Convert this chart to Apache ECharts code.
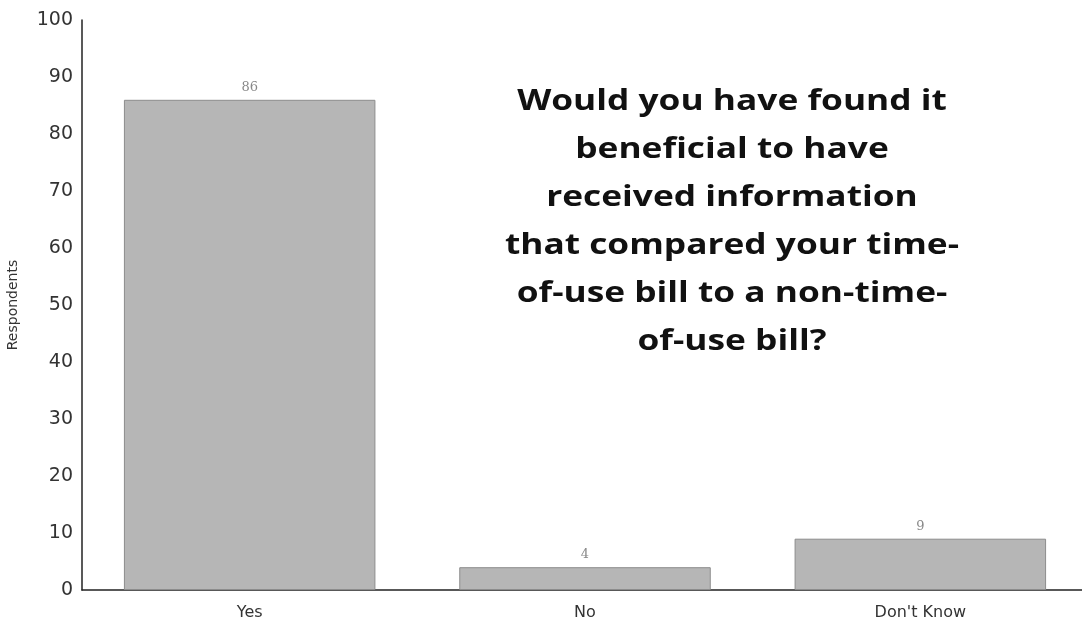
<!DOCTYPE html>
<html>
<head>
<meta charset="utf-8">
<script src="https://cdn.jsdelivr.net/npm/echarts@6/dist/echarts.min.js"></script>
<style>
  html, body { margin: 0; padding: 0; background: #fff; }
  #chart { width: 1082px; height: 623px; }
</style>
</head>
<body>
<div id="chart"></div>
<script>
// Survey answers and respondent counts
const categories = ['Yes', 'No', "Don't Know"];
const respondents = [86, 4, 9];
const yTicks = { min: 0, max: 100, interval: 10 };
const question = [
  'Would you have found it',
  'beneficial to have',
  'received information',
  'that compared your time-',
  'of-use bill to a non-time-',
  'of-use bill?'
];

const chart = echarts.init(document.getElementById('chart'), null, { renderer: 'canvas' });

chart.setOption({
  animation: false,
  backgroundColor: '#ffffff',
  // question text, set in a wide bold face
  graphic: [{
    type: 'text',
    x: 732,
    y: 78,
    scaleX: 1.26,
    style: {
      text: question.join('\n'),
      fontFamily: 'Open Sans',
      fontWeight: 'bold',
      fontSize: 28,
      lineHeight: 48,
      align: 'center',
      verticalAlign: 'top',
      fill: '#111'
    }
  }],
  // the plot runs a little past the right edge of the canvas
  grid: { left: 82, width: 1006, top: 20, bottom: 33, containLabel: false, outerBoundsMode: 'none' },
  xAxis: {
    type: 'category',
    data: categories,
    axisLine: { lineStyle: { color: '#222', width: 1.5 } },
    axisTick: { show: false },
    axisLabel: {
      fontFamily: 'DejaVu Sans',
      fontSize: 16,
      color: '#333',
      margin: 15
    }
  },
  yAxis: {
    type: 'value',
    min: yTicks.min,
    max: yTicks.max,
    interval: yTicks.interval,
    name: 'Respondents',
    nameLocation: 'middle',
    nameGap: 62,
    nameRotate: 90,
    nameTextStyle: { fontFamily: 'DejaVu Sans', fontSize: 14, color: '#333' },
    axisLine: { show: true, lineStyle: { color: '#222', width: 1.5 } },
    axisTick: { show: false },
    splitLine: { show: false },
    axisLabel: {
      fontFamily: 'DejaVu Sans',
      fontSize: 19,
      color: '#333',
      margin: 9
    }
  },
  series: [{
    type: 'bar',
    data: respondents,
    barCategoryGap: '25%',
    itemStyle: { color: '#b6b6b6', borderColor: '#8c8c8c', borderWidth: 1 },
    label: {
      show: true,
      position: 'top',
      distance: 6,
      fontFamily: 'DejaVu Serif',
      fontSize: 13,
      color: '#888'
    }
  }]
});
</script>
</body>
</html>
